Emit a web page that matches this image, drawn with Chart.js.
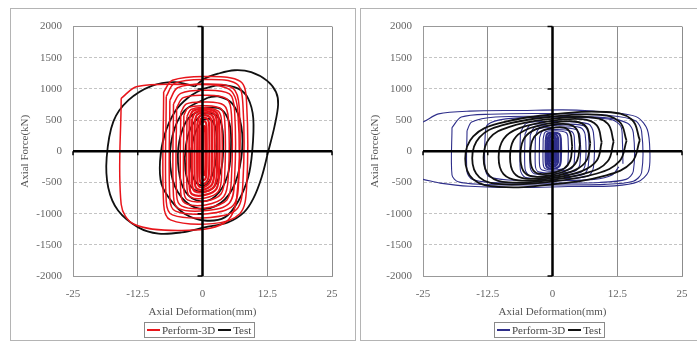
<!DOCTYPE html>
<html>
<head>
<meta charset="utf-8">
<script src="https://cdn.jsdelivr.net/npm/chart.js@4.4.1/dist/chart.umd.min.js"></script>
<style>
  html, body { margin: 0; padding: 0; background: #fff; overflow: hidden; }
  body { width: 697px; height: 341px; position: relative; }
  .panel { position: absolute; top: 8px; width: 344px; height: 331px; border: 1px solid #b4b4b4; background: #fff; }
  #panelLeft { left: 10px; }
  #panelRight { left: 360px; }
  .panel canvas { position: absolute; left: 0; top: 0; }
  .legend { position: absolute; left: 133px; top: 313px; height: 14px; border: 1px solid #8a8a8a; padding: 0 3px 0 2px;
            font: 11px 'Liberation Serif', serif; color: #444; display: flex; align-items: center; white-space: nowrap; }
  .legend .item { display: flex; align-items: center; margin-right: 3px; }
  .legend .item:last-child { margin-right: 0; }
  .legend .sw { display: inline-block; width: 13px; height: 2px; margin-right: 2px; }
</style>
</head>
<body>
<div class="panel" id="panelLeft">
  <canvas id="leftChart" width="344" height="331"></canvas>
  <div class="legend" id="leftLegend"></div>
</div>
<div class="panel" id="panelRight">
  <canvas id="rightChart" width="344" height="331"></canvas>
  <div class="legend" id="rightLegend"></div>
</div>
<script>
// --- axis setup ---
const xTickValues = [-25, -12.5, 0, 12.5, 25];
const yTickValues = [-2000, -1500, -1000, -500, 0, 500, 1000, 1500, 2000];
const yAxisMarks = [-2000, -1000, 1000, 2000];
const xTitle = 'Axial Deformation(mm)';
const yTitle = 'Axial Force(kN)';
const seriesNames = ['Perform-3D', 'Test'];

// --- left panel: Perform-3D loops (red) ---
const leftModelLoops = [
  [[-15.7,850],[-15.7,-850],[-13.2,-1170],[-4,-1270],[4.2,-1150],[6.6,-750],[6.8,650],[5,1000],[-3,1070],[-12.6,1040],[-15.7,850]],
  [[-7.5,950],[-7.5,-850],[-6.2,-1100],[2,-1160],[7.2,-1000],[8.5,-600],[8.5,800],[7.3,1120],[1,1200],[-5.8,1140],[-7.5,950]],
  [[-7,880],[-7,-800],[-5.8,-1020],[1.5,-1060],[6.6,-930],[7.8,-500],[7.8,750],[6.6,1080],[0.5,1150],[-5.4,1090],[-7,880]],
  [[-6.3,820],[-6.3,-760],[-5.2,-960],[1,-1000],[5.9,-870],[7,-450],[7.1,700],[5.9,1010],[0.5,1080],[-4.8,1020],[-6.3,820]],
  [[-5.6,760],[-5.6,-720],[-4.6,-920],[0.8,-950],[5.2,-830],[6.2,-420],[6.2,640],[5.2,920],[0.4,980],[-4.2,930],[-5.6,760]],
  [[-5,700],[-5,-700],[-4,-880],[0.6,-910],[4.7,-780],[5.6,-400],[5.6,580],[4.7,840],[0.3,900],[-3.7,860],[-5,700]],
  [[-4.2,620],[-4.2,-660],[-3.4,-830],[0.6,-860],[4.1,-730],[5,-380],[5,520],[4.1,740],[0.4,790],[-3.1,760],[-4.2,620]],
  [[-3.6,580],[-3.6,-620],[-2.9,-780],[0.5,-800],[3.6,-680],[4.3,-350],[4.3,480],[3.6,680],[0.4,730],[-2.7,700],[-3.6,580]],
  [[-3,560],[-3,-580],[-2.4,-730],[0.5,-750],[3.1,-640],[3.7,-330],[3.7,460],[3.1,640],[0.4,700],[-2.2,670],[-3,560]]
];
const leftModelCore = [
  [[-2.5,540],[-2.5,-560],[-2,-690],[0.5,-700],[2.7,-600],[3.2,-300],[3.2,450],[2.7,620],[0.4,680],[-1.8,650],[-2.5,540]],
  [[-2,520],[-2,-520],[-1.5,-640],[0.4,-650],[2.3,-560],[2.8,-280],[2.8,430],[2.3,600],[0.4,650],[-1.4,620],[-2,520]],
  [[-1.5,480],[-1.5,-480],[-1.1,-600],[0.4,-610],[1.9,-520],[2.3,-260],[2.3,420],[1.9,570],[0.4,620],[-1,590],[-1.5,480]],
  [[-1,440],[-1,-440],[-0.7,-560],[0.4,-570],[1.5,-480],[1.8,-240],[1.8,400],[1.5,540],[0.4,580],[-0.6,560],[-1,440]],
  [[-0.6,400],[-0.6,-400],[-0.3,-510],[0.4,-520],[1.1,-440],[1.3,-220],[1.3,380],[1.1,500],[0.4,540],[-0.3,520],[-0.6,400]],
  [[-0.2,350],[-0.2,-350],[0,-450],[0.4,-460],[0.7,-400],[0.8,-200],[0.8,350],[0.7,450],[0.4,480],[0,460],[-0.2,350]],
  [[0.1,300],[0.1,-300],[0.25,-380],[0.45,-380],[0.55,-300],[0.55,300],[0.45,400],[0.25,400],[0.1,300]]
];

// --- left panel: Test loops (black) ---
const leftTestLoops = [
  [[-1.5,1040],[-5.3,1110],[-9.8,1050],[-14.3,820],[-17.2,480],[-18.5,-100],[-18.2,-580],[-16.3,-950],[-12.4,-1220],[-8.5,-1320],[-4,-1300],[0.4,-1220],[4.9,-1140],[8,-980],[9.8,-760],[11.4,-420],[12.7,0],[13.9,400],[14.6,750],[14.2,950],[12.5,1130],[9.4,1270],[6.2,1300],[3,1245],[0.4,1165],[-1.5,1040]],
  [[0,1000],[-2.8,860],[-5.3,640],[-7.3,270],[-8.2,-160],[-7.9,-530],[-6,-800],[-3.4,-1005],[0.4,-1110],[4.3,-1060],[6.9,-800],[8.8,-420],[9.6,0],[9.8,530],[8.8,850],[6.9,1005],[3.5,1060],[0,1000]],
  [[1,860],[-3.5,650],[-5.8,250],[-6.2,-250],[-4.8,-650],[-1.5,-900],[2.5,-880],[5.8,-600],[7.5,-100],[7.5,400],[5.8,760],[3,880],[1,860]],
  [[0.5,700],[-2.8,520],[-4.5,150],[-4.6,-300],[-3.3,-650],[-0.5,-800],[2.5,-720],[4.8,-400],[5.5,50],[5.2,450],[3.5,680],[0.5,700]],
  [[0,600],[-2,420],[-3.2,100],[-3.3,-300],[-2.3,-560],[0,-650],[2.3,-560],[3.7,-250],[4,150],[3.6,450],[2.2,600],[0,600]],
  [[0,500],[-1.4,300],[-2.2,0],[-2.1,-330],[-1,-520],[0.8,-530],[2.2,-300],[2.8,50],[2.5,380],[1.4,520],[0,500]]
];

// --- right panel: Perform-3D loops (blue) ---
const rightModelLoops = [
  [[-27,430],[-25,470],[-22,600],[-16,645],[-6,655],[2,665],[8,645],[13,610],[16.5,540],[18.3,350],[18.8,0],[18.5,-330],[16.5,-490],[12,-555],[3,-565],[-6,-580],[-16,-560],[-21.7,-510],[-25,-450],[-27,-430]],
  [[-19.4,380],[-19.4,-380],[-18.2,-490],[-14,-530],[-2,-540],[10,-530],[15.6,-480],[17.2,-340],[17.2,320],[16,490],[11,575],[0,605],[-12,595],[-17.6,550],[-19.4,380]],
  [[-16.5,330],[-16.5,-330],[-15.5,-450],[-12,-500],[-2,-510],[9,-500],[14.2,-450],[15.6,-320],[15.6,300],[14.5,450],[10,540],[0,560],[-11,550],[-15.6,470],[-16.5,330]],
  [[13.6,-200],[13.5,150],[13.2,400],[11.5,505],[6,540],[-2,545],[-9,520],[-12.5,430],[-13,250],[-13,-280],[-12.2,-410],[-8.5,-460],[0,-470],[8,-450],[11.5,-380],[12.8,-250]],
  [[-6.2,300],[-6.2,-300],[-5.2,-420],[1,-440],[6.8,-400],[7.9,-260],[7.9,300],[6.9,440],[1,480],[-5,450],[-6.2,300]],
  [[-5.3,280],[-5.3,-280],[-4.4,-390],[1,-410],[6,-370],[6.9,-240],[6.9,290],[6,410],[1,440],[-4.3,420],[-5.3,280]],
  [[-4.3,260],[-4.3,-260],[-3.5,-360],[1,-380],[5.4,-340],[6.3,-220],[6.3,270],[5.4,380],[1,410],[-3.4,390],[-4.3,260]],
  [[-3.3,240],[-3.3,-240],[-2.7,-330],[1,-350],[4.5,-310],[5.3,-200],[5.3,250],[4.5,350],[1,380],[-2.6,360],[-3.3,240]],
  [[-2.5,220],[-2.5,-220],[-2,-300],[0.8,-320],[3.6,-280],[4.2,-180],[4.2,230],[3.6,320],[0.8,350],[-1.9,330],[-2.5,220]],
  [[-1.8,200],[-1.8,-200],[-1.4,-280],[0.6,-300],[2.6,-260],[3,-160],[3,210],[2.6,300],[0.6,330],[-1.4,310],[-1.8,200]]
];
const rightModelCore = [
  [[-1.3,180],[-1.3,-180],[-1,-260],[0.2,-280],[1.3,-240],[1.6,-140],[1.6,200],[1.3,280],[0.2,300],[-1,280],[-1.3,180]],
  [[-1,160],[-1,-160],[-0.7,-230],[0.1,-250],[0.9,-210],[1.1,-120],[1.1,180],[0.9,250],[0.1,280],[-0.7,250],[-1,160]],
  [[-0.7,140],[-0.7,-140],[-0.5,-200],[0.1,-220],[0.6,-190],[0.8,-100],[0.8,160],[0.6,220],[0.1,250],[-0.5,220],[-0.7,140]],
  [[-0.4,120],[-0.4,-120],[-0.2,-180],[0.1,-190],[0.4,-160],[0.5,-80],[0.5,140],[0.4,200],[0.1,220],[-0.2,200],[-0.4,120]],
  [[-0.2,80],[-0.2,-80],[0,-140],[0.2,-140],[0.3,-80],[0.3,100],[0.2,160],[0,150],[-0.2,80]]
];

// --- right panel: Test loops (black), tilted rounded ellipses ---
const rightTestLoops = [
  [[16.85,180],[15.3,511],[10.4,630],[0,590],[-10.4,446],[-15.3,239],[-16.85,-120],[-15.3,-451],[-10.4,-570],[0,-530],[10.4,-386],[15.3,-179],[16.85,180]],
  [[14.3,170],[12.9,477],[8.6,588],[-0.6,550],[-9.8,416],[-14.1,223],[-15.5,-110],[-14.1,-417],[-9.8,-528],[-0.6,-490],[8.6,-356],[12.9,-163],[14.3,170]],
  [[11.8,155],[10.65,445],[6.95,549],[-0.75,515],[-8.45,389],[-12.15,209],[-13.3,-105],[-12.15,-395],[-8.45,-499],[-0.75,-465],[6.95,-339],[10.65,-159],[11.8,155]],
  [[9.5,145],[8.55,417],[5.65,516],[-0.45,485],[-6.55,368],[-9.45,199],[-10.4,-95],[-9.45,-367],[-6.55,-466],[-0.45,-435],[5.65,-318],[8.55,-149],[9.5,145]],
  [[7.3,130],[6.58,385],[4.32,478],[-0.45,450],[-5.22,342],[-7.48,185],[-8.2,-90],[-7.48,-345],[-5.22,-438],[-0.45,-410],[4.32,-302],[6.58,-145],[7.3,130]],
  [[5.3,105],[4.75,343],[3.05,433],[-0.45,415],[-3.95,323],[-5.65,179],[-6.2,-75],[-5.65,-313],[-3.95,-403],[-0.45,-385],[3.05,-293],[4.75,-149],[5.3,105]],
  [[3.8,80],[3.42,295],[2.25,380],[-0.25,370],[-2.75,294],[-3.92,169],[-4.3,-60],[-3.92,-275],[-2.75,-360],[-0.25,-350],[2.25,-274],[3.42,-149],[3.8,80]]
];

const colors = { red: '#e8151b', blue: '#2e2e8a', black: '#111111' };

Chart.defaults.font.family = "'Liberation Serif', serif";
Chart.defaults.font.size = 11;
Chart.defaults.color = '#555';

function loopDatasets(loops, color, width, tension) {
    return loops.map(loop => ({
        data: loop.map(p => ({ x: p[0], y: p[1] })),
        showLine: true,
        borderColor: color,
        borderWidth: width,
        pointRadius: 0,
        tension: tension,
        fill: false
    }));
}

// thick black axes through the origin
const zeroAxes = {
    id: 'zeroAxes',
    afterDatasetsDraw(chart) {
        const { ctx, chartArea: a, scales: { x, y } } = chart;
        const x0 = x.getPixelForValue(0);
        const y0 = y.getPixelForValue(0);
        ctx.save();
        ctx.strokeStyle = '#000';
        ctx.lineWidth = 2.5;
        ctx.beginPath();
        ctx.moveTo(a.left, y0); ctx.lineTo(a.right, y0);
        ctx.moveTo(x0, a.top); ctx.lineTo(x0, a.bottom);
        ctx.stroke();
        ctx.lineWidth = 1.5;
        ctx.beginPath();
        xTickValues.filter(v => v !== 0).forEach(v => {
            const px = x.getPixelForValue(v);
            ctx.moveTo(px, y0); ctx.lineTo(px, y0 + 4);
        });
        yAxisMarks.forEach(v => {
            const py = y.getPixelForValue(v);
            ctx.moveTo(x0, py); ctx.lineTo(x0 - 5, py);
        });
        ctx.stroke();
        ctx.restore();
    }
};

function makeChart(canvasId, datasets) {
    const ctx = document.getElementById(canvasId).getContext('2d');
    return new Chart(ctx, {
        type: 'scatter',
        data: { datasets: datasets },
        options: {
            responsive: false,
            animation: false,
            events: [],
            devicePixelRatio: 1,
            layout: { padding: { left: 0, top: 15, right: 23, bottom: 0 } },
            plugins: { legend: { display: false }, tooltip: { enabled: false } },
            scales: {
                x: {
                    type: 'linear', min: -25, max: 25,
                    afterBuildTicks: s => { s.ticks = xTickValues.map(v => ({ value: v })); },
                    afterFit: s => { s.height = 64; },
                    ticks: { padding: 12, color: '#666', callback: v => String(v) },
                    grid: { drawTicks: false, color: '#8c8c8c', lineWidth: 1 },
                    border: { color: '#999' },
                    title: { display: true, text: xTitle, color: '#555', padding: { top: 0, bottom: 21 } }
                },
                y: {
                    type: 'linear', min: -2000, max: 2000,
                    afterBuildTicks: s => { s.ticks = yTickValues.map(v => ({ value: v })); },
                    afterFit: s => { s.width = 62; },
                    ticks: { padding: 11, color: '#666', callback: v => String(v) },
                    grid: {
                        drawTicks: false, lineWidth: 1,
                        color: c => (c.tick && Math.abs(c.tick.value) === 2000) ? '#999' : '#c4c4c4'
                    },
                    border: {
                        color: '#999',
                        dash: c => (c.tick && Math.abs(c.tick.value) !== 2000) ? [3, 2] : []
                    },
                    title: { display: true, text: yTitle, color: '#555', padding: { top: 8, bottom: 0 } }
                }
            }
        },
        plugins: [zeroAxes]
    });
}

function makeLegend(id, lineColors) {
    const box = document.getElementById(id);
    seriesNames.forEach((name, i) => {
        const item = document.createElement('span');
        item.className = 'item';
        const sw = document.createElement('span');
        sw.className = 'sw';
        sw.style.background = lineColors[i];
        item.appendChild(sw);
        item.appendChild(document.createTextNode(name));
        box.appendChild(item);
    });
}

// left: red drawn over black (first dataset is painted last)
makeChart('leftChart', [
    ...loopDatasets(leftModelCore, colors.red, 2.2, 0.35),
    ...loopDatasets(leftModelLoops, colors.red, 1.5, 0.35),
    ...loopDatasets(leftTestLoops, colors.black, 1.8, 0.35)
]);
makeLegend('leftLegend', [colors.red, colors.black]);

// right: blue core on top, black in the middle, outer blue underneath
makeChart('rightChart', [
    ...loopDatasets(rightModelCore, colors.blue, 2.2, 0.35),
    ...loopDatasets(rightTestLoops, colors.black, 1.8, 0.4),
    ...loopDatasets(rightModelLoops, colors.blue, 1.1, 0.3)
]);
makeLegend('rightLegend', [colors.blue, colors.black]);
</script>
</body>
</html>
